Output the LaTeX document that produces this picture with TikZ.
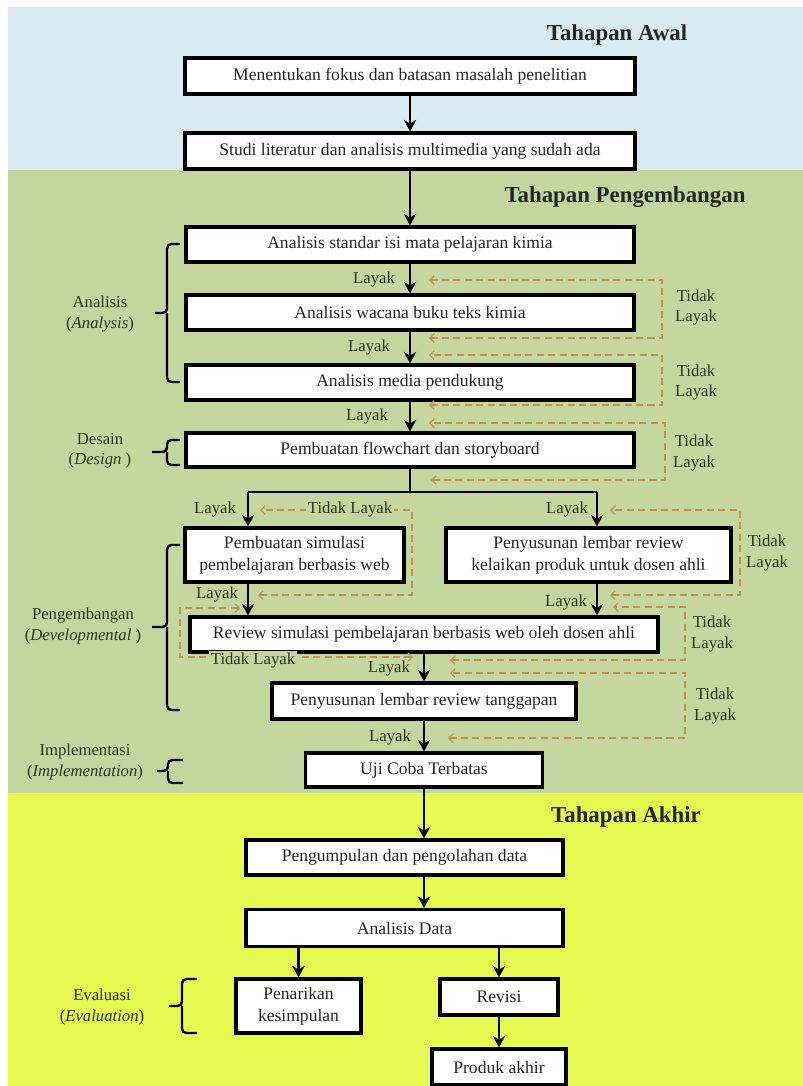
\documentclass[tikz,border=0pt]{standalone}
\usepackage{fontspec}
\setmainfont{Liberation Serif}
\usetikzlibrary{arrows.meta,positioning}
\definecolor{awal}{RGB}{217,235,242}
\definecolor{kembang}{RGB}{195,214,157}
\definecolor{akhir}{RGB}{229,250,80}
\definecolor{balik}{RGB}{198,142,82}
\definecolor{teks}{RGB}{45,55,30}

\begin{document}
\begin{tikzpicture}[x=0.02cm,y=-0.02cm,>={Stealth[length=6.5pt,width=7pt]},
  box/.style={draw,line width=1.9pt,fill=white,align=center,inner sep=1pt,text=black!85,font=\fontsize{10}{12.5}\selectfont},
  flow/.style={->,line width=1.5pt},
  fb/.style={balik,line width=0.7pt,dash pattern=on 4pt off 2.5pt,arrows={Straight Barb[length=2.5pt,width=5pt]-Straight Barb[length=2.5pt,width=5pt]}},
  lbl/.style={text=teks,align=center,inner sep=1pt,font=\fontsize{9.5}{11.5}\selectfont},
  ttl/.style={text=black!85,font=\fontsize{13}{15}\selectfont\bfseries},
  brc/.style={line width=1.4pt,rounded corners=2.5pt}]
  \useasboundingbox (0,0) rectangle (803,1086);
  % three phases
  \fill[white] (0,0) rectangle (803,1086);
  \fill[awal] (8,7) rectangle (803,170);
  \fill[kembang] (8,170) rectangle (803,793);
  \fill[akhir] (8,793) rectangle (803,1086);
  \node[ttl] (tawal) at (617,35) {Tahapan Awal};
  \node[ttl] (tkembang) at (625,197) {Tahapan Pengembangan};
  \node[ttl] (takhir) at (626,817) {Tahapan Akhir};

  % main boxes
  \node[box,minimum width=9cm,minimum height=0.72cm] (b1) at (410,76) {Menentukan fokus dan batasan masalah penelitian};
  \node[box,minimum width=9cm,minimum height=0.72cm] (b2) at (410,151) {Studi literatur dan analisis multimedia yang sudah ada};
  \node[box,minimum width=8.96cm,minimum height=0.7cm] (b3) at (410,244.5) {Analisis standar isi mata pelajaran kimia};
  \node[box,minimum width=8.96cm,minimum height=0.7cm] (b4) at (410,312.5) {Analisis wacana buku teks kimia};
  \node[box,minimum width=8.96cm,minimum height=0.7cm] (b5) at (410,382.5) {Analisis media pendukung};
  \node[box,minimum width=8.96cm,minimum height=0.68cm] (b6) at (410,450) {Pembuatan flowchart dan storyboard};
  \node[box,minimum width=4.38cm,minimum height=1.08cm] (b7) at (294.5,555) {Pembuatan simulasi\\pembelajaran berbasis web};
  \node[box,minimum width=5.7cm,minimum height=1.08cm] (b8) at (588.5,555) {Penyusunan lembar review\\kelaikan produk untuk dosen ahli};
  \node[box,minimum width=9.36cm,minimum height=0.7cm] (b9) at (424,634.5) {Review simulasi pembelajaran berbasis web oleh dosen ahli};
  \node[box,minimum width=6.08cm,minimum height=0.72cm] (b10) at (424,701) {Penyusunan lembar review tanggapan};
  \node[box,minimum width=4.74cm,minimum height=0.68cm] (b11) at (424,770) {Uji Coba Terbatas};
  \node[box,minimum width=6.34cm,minimum height=0.7cm] (b12) at (404.5,857.5) {Pengumpulan dan pengolahan data};
  \node[box,minimum width=6.34cm,minimum height=0.74cm] (b13) at (404.5,928) {Analisis Data};
  \node[box,minimum width=2.5cm,minimum height=1.08cm] (b14) at (298.5,1006) {Penarikan\\kesimpulan};
  \node[box,minimum width=2.36cm,minimum height=0.72cm] (b15) at (499,997) {Revisi};
  \node[box,minimum width=2.68cm,minimum height=0.72cm] (b16) at (499,1067) {Produk akhir};

  % flow
  \draw[flow] (b1) -- (b2); \draw[flow] (b2) -- (b3); \draw[flow] (b3) -- (b4); \draw[flow] (b4) -- (b5); \draw[flow] (b5) -- (b6);
  \coordinate (sp) at (410,492); \coordinate (sl) at (248,492); \coordinate (sr) at (597,492);
  \draw[line width=1.5pt] (b6) -- (sp); \draw[line width=1.5pt] (sl) -- (sr);
  \draw[flow] (sl) -- (sl |- b7.north); \draw[flow] (sr) -- (sr |- b8.north);
  \draw[flow] (sl |- b7.south) -- (sl |- b9.north); \draw[flow] (sr |- b8.south) -- (sr |- b9.north);
  \draw[flow] (b9) -- (b10); \draw[flow] (b10) -- (b11);
  \draw[flow] (b11) -- (b11 |- b12.north); \draw[flow] (b11 |- b12.south) -- (b11 |- b13.north);
  \draw[flow] (b14 |- b13.south) -- (b14); \draw[flow] (b15 |- b13.south) -- (b15); \draw[flow] (b15) -- (b16);

  % layak labels
  \node[lbl,anchor=east] (ly1) at (397,280) {Layak};
  \node[lbl,anchor=east] (ly2) at (392,348) {Layak};
  \node[lbl,anchor=east] (ly3) at (390,417) {Layak};
  \node[lbl,anchor=east] (ly4) at (238,510) {Layak};
  \node[lbl,anchor=east] (ly5) at (590,510) {Layak};
  \node[lbl,anchor=east] (ly6) at (240,595) {Layak};
  \node[lbl,anchor=east] (ly7) at (589,602) {Layak};
  \node[lbl,anchor=east] (ly8) at (412,668) {Layak};
  \node[lbl,anchor=east] (ly9) at (413,737) {Layak};

  % tidak layak loops
  \draw[fb] (429,338) -| (662,280) -- (429,280);
  \draw[fb] (429,405) -| (662,355) -- (429,355);
  \draw[fb] (431,480) -| (665,423) -- (429,423);
  \draw[fb] (258,595) -| (412,510) -- (260,510);
  \draw[fb] (610,595) -| (740,510) -- (610,510);
  \draw[fb] (450,660) -| (685,607) -- (613,607);
  \draw[fb] (448,738) -| (685,673) -- (450,673);
  \draw[fb] (413,657) -| (180,608) -- (240,608);
  \node[lbl,fill=kembang] (tl1) at (350,510) {Tidak Layak};
  \node[lbl,fill=kembang] (tl2) at (253,660) {Tidak Layak};
  \node[lbl] (tl3) at (696,307.5) {Tidak\\Layak};
  \node[lbl] (tl4) at (696,382.5) {Tidak\\Layak};
  \node[lbl] (tl5) at (694,453) {Tidak\\Layak};
  \node[lbl] (tl6) at (767,553) {Tidak\\Layak};
  \node[lbl] (tl7) at (712,634) {Tidak\\Layak};
  \node[lbl] (tl8) at (715,706) {Tidak\\Layak};

  % stages on the left
  \node[lbl] (analisis) at (100,314) {Analisis\\(\textit{Analysis})};
  \node[lbl] (desain) at (100,451) {Desain\\(\textit{Design} )};
  \node[lbl] (pengembangan) at (83,626) {Pengembangan\\(\textit{Developmental} )};
  \node[lbl] (implementasi) at (85,762) {Implementasi\\(\textit{Implementation})};
  \node[lbl] (evaluasi) at (102,1007) {Evaluasi\\(\textit{Evaluation})};
  \draw[brc] (180,244) -| (167,313) -- (155,313); \draw[brc] (167,313) |- (180,382);
  \draw[brc] (180,440) -| (167,452) -- (152,452); \draw[brc] (167,452) |- (180,465);
  \draw[brc] (180,545) -| (167,627) -- (152,627); \draw[brc] (167,627) |- (180,710);
  \draw[brc] (183,760) -| (168,771) -- (157,771); \draw[brc] (168,771) |- (183,783);
  \draw[brc] (197,979) -| (182,1006) -- (169,1006); \draw[brc] (182,1006) |- (197,1033);
\end{tikzpicture}
\end{document}
